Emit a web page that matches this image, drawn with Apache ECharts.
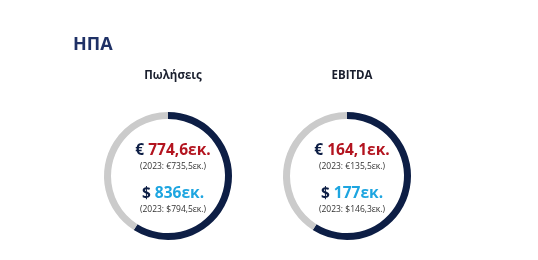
<!DOCTYPE html>
<html><head><meta charset="utf-8">
<script src="https://cdn.jsdelivr.net/npm/echarts@6/dist/echarts.min.js"></script>
<style>html,body{margin:0;padding:0;background:#fff}#c{width:538px;height:260px}</style>
</head><body><div id="c"></div>
<script>
const pageTitle = 'ΗΠΑ';
const categories = ['Πωλήσεις', 'EBITDA'];
const shareValues = [59, 59];          // dark arc share (%)
const eurValues = ['774,6', '164,1'];
const eurPrev = ['735,5', '135,5'];
const usdValues = ['836', '177'];
const usdPrev = ['794,5', '146,3'];
const unit = 'εκ.';
const prevYear = '2023';

const centersX = [168, 347];
const centerY = 176;
const navy = '#0d1e45', gray = '#cbcbcb', red = '#b3141f', blue = '#1da5e0';
const font = '"Open Sans", "Liberation Sans", sans-serif';

const chart = echarts.init(document.getElementById('c'), null, {renderer: 'canvas'});
const series = categories.map((c, i) => ({
  type: 'pie', silent: true, animation: false,
  center: [centersX[i], centerY], radius: [57, 64],
  startAngle: 90, clockwise: true,
  label: {show: false}, labelLine: {show: false},
  data: [
    {name: c, value: shareValues[i], itemStyle: {color: navy}},
    {name: 'rest', value: 100 - shareValues[i], itemStyle: {color: gray}}
  ]
}));
const titles = [{
  text: pageTitle, left: 68, top: 31,
  textStyle: {fontFamily: font, fontSize: 18, fontWeight: 'bold', color: '#1f3166'}
}];
categories.forEach((c, i) => {
  titles.push({
    text: c, left: centersX[i], top: 65, textAlign: 'center',
    textStyle: {fontFamily: font, fontSize: 11.5, fontWeight: 'bold', color: '#1a1f2e'}
  });
  titles.push({
    text: '{s|€ }{r|' + eurValues[i] + unit + '}', left: centersX[i], top: 138, textAlign: 'center',
    textStyle: {rich: {
      s: {fontFamily: font, fontSize: 15.5, fontWeight: 'bold', color: navy},
      r: {fontFamily: font, fontSize: 15.5, fontWeight: 'bold', color: red}
    }}
  });
  titles.push({
    text: '(' + prevYear + ': €' + eurPrev[i] + unit + ')', left: centersX[i], top: 157, textAlign: 'center',
    textStyle: {fontFamily: font, fontSize: 8.5, fontWeight: 'normal', color: '#333'}
  });
  titles.push({
    text: '{s|$ }{b|' + usdValues[i] + unit + '}', left: centersX[i], top: 181, textAlign: 'center',
    textStyle: {rich: {
      s: {fontFamily: font, fontSize: 15.5, fontWeight: 'bold', color: navy},
      b: {fontFamily: font, fontSize: 15.5, fontWeight: 'bold', color: blue}
    }}
  });
  titles.push({
    text: '(' + prevYear + ': $' + usdPrev[i] + unit + ')', left: centersX[i], top: 200, textAlign: 'center',
    textStyle: {fontFamily: font, fontSize: 8.5, fontWeight: 'normal', color: '#333'}
  });
});
chart.setOption({animation: false, title: titles, series: series});
</script></body></html>
